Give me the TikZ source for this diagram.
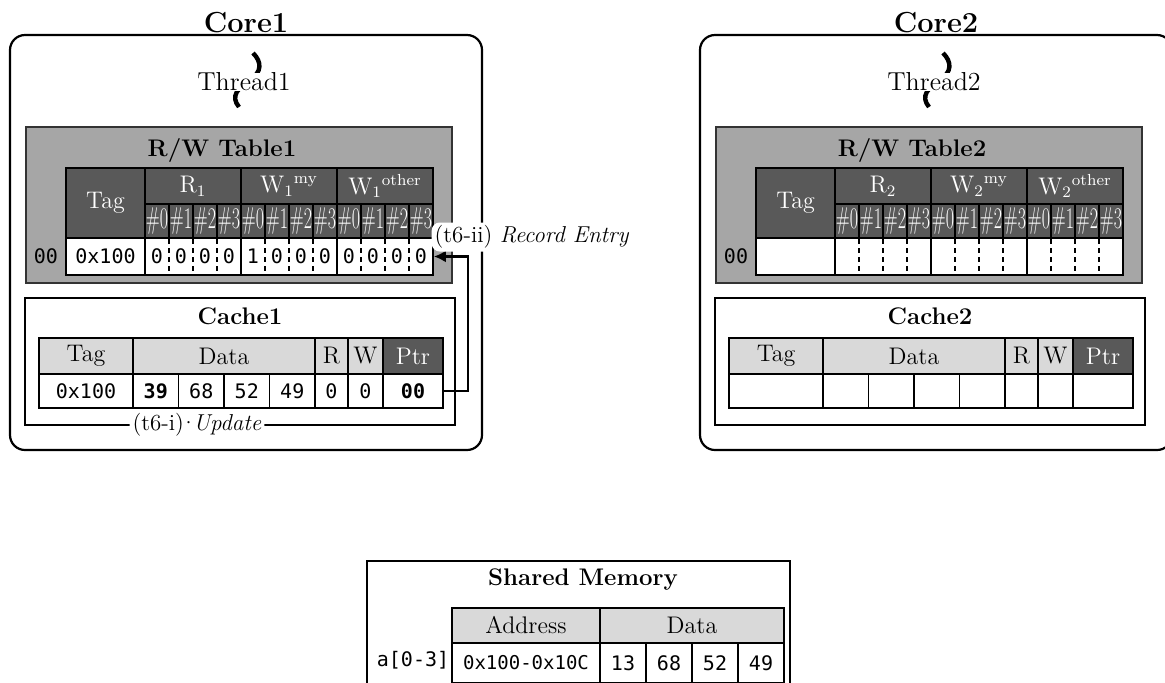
\documentclass[tikz,border=0pt]{standalone}
\usepackage{fontspec}
\setmonofont{DejaVu Sans Mono}
\usetikzlibrary{arrows.meta}
\definecolor{cdark}{HTML}{595959}
\definecolor{cgray}{HTML}{A6A6A6}
\definecolor{clight}{HTML}{D9D9D9}
\newcommand{\cellmono}{\fontsize{10}{11}\selectfont\ttfamily}
\newcommand{\cellrm}{\fontsize{12}{14}\selectfont}
\newcommand{\hashrm}{\fontsize{15}{17}\selectfont}
\tikzset{
  corebox/.style={draw, line width=1.1pt, rounded corners=7.5pt},
  thread/.style={line width=2.2pt},
  rwbox/.style={draw=black!80, fill=cgray, line width=0.8pt},
  cachebox/.style={draw, fill=white, line width=0.9pt},
  cell/.style={draw, fill=white, line width=0.9pt, inner sep=0pt, font=\cellmono},
  hdcell/.style={cell, fill=cdark, text=white, font=\cellrm},
  ltcell/.style={cell, fill=clight, font=\cellrm},
  wh/.style 2 args={minimum width=#1pt, minimum height=#2pt},
  divider/.style={line width=0.9pt, dash pattern=on 2.5pt off 2pt},
  coretitle/.style={font=\fontsize{14.5}{16}\selectfont\bfseries, inner sep=0.8pt},
  boxtitle/.style={font=\fontsize{12}{14}\selectfont\bfseries},
  steplabel/.style={fill=white, inner sep=1.5pt, rounded corners=4pt, font=\fontsize{11.5}{13}\selectfont},
  ptrarrow/.style={line width=1.3pt, -{Latex[length=6pt,width=6pt]}}
}

\begin{document}
\begin{tikzpicture}[x=1pt,y=-1pt]
\useasboundingbox (0,0) rectangle (582.5,341);

\foreach \c/\dx in {1/0,2/345}
{
  \begin{scope}[shift={(\dx,0)}]
  \draw[corebox] (5,17.5) rectangle (241,225);
  \node[coretitle, anchor=south] (core\c) at (123,17.5) {Core\c};
  \draw[thread] (126.5,26.5) .. controls (131,31) and (131,36) .. (125,40)
    .. controls (119,44) and (115,48) .. (119.5,53.5);
  \node[fill=white, inner sep=0pt, font=\fontsize{13}{15}\selectfont] (thr\c) at (122,41) {Thread\c};

  \draw[rwbox] (13,63.5) rectangle (226,141.5);
  \node[boxtitle] (rwt\c) at (111,75) {R/W Table\c};
  \node[hdcell, wh={39.5}{35}] (rw\c-tag) at (52.75,101.5) {Tag};
  \node[cell, wh={39.5}{18.5}] (rw\c-dtag) at (52.75,128.25) {};
  \node[font=\cellmono] (rw\c-idx) at (23,128.25) {00};
  \foreach \g/\lab in {0/$\mathrm{R}_{\c}$,1/$\mathrm{W}_{\c}{}^{\mathrm{my}}$,2/$\mathrm{W}_{\c}{}^{\mathrm{other}}$}
  {
    \node[hdcell, wh={48}{18}] (rw\c-h\g) at (96.5+48*\g,93) {\lab};
    \node[cell, wh={48}{18.5}] (rw\c-g\g) at (96.5+48*\g,128.25) {};
    \foreach \s in {0,...,3}
    {
      \node[hdcell, wh={12}{17}, font=\hashrm] (rw\c-h\g-\s) at (78.5+48*\g+12*\s,110.5) {\scalebox{0.6}[1]{\#\s}};
    }
    \foreach \s in {1,2,3}
    {
      \draw[divider] (72.5+48*\g+12*\s,119.5) -- (72.5+48*\g+12*\s,137);
    }
  }

  \draw[cachebox] (12.5,149) rectangle (227.5,212.5);
  \node[boxtitle] (ct\c) at (120,158) {Cache\c};
  \node[ltcell, wh={47}{18}] (c\c-htag) at (43,178) {Tag};
  \node[ltcell, wh={91}{18}] (c\c-hdata) at (112,178) {Data};
  \node[ltcell, wh={16.5}{18}] (c\c-hr) at (165.75,178) {R};
  \node[ltcell, wh={17.5}{18}] (c\c-hw) at (182.75,178) {W};
  \node[hdcell, wh={30}{18}] (c\c-hptr) at (206.5,178) {Ptr};
  \node[cell, wh={47}{17}] (c\c-dtag) at (43,195.5) {};
  \foreach \s in {0,...,3}
  {
    \node[cell, wh={22.75}{17}] (c\c-d\s) at (77.875+22.75*\s,195.5) {};
  }
  \node[cell, wh={16.5}{17}] (c\c-dr) at (165.75,195.5) {};
  \node[cell, wh={17.5}{17}] (c\c-dw) at (182.75,195.5) {};
  \node[cell, wh={30}{17}] (c\c-dptr) at (206.5,195.5) {};
  \end{scope}
}

\node[font=\cellmono] (rv-tag) at (rw1-dtag) {0x100};
\foreach \x in {0,...,11}
{
  \pgfmathtruncatemacro{\v}{\x==4}
  \node[font=\cellmono] (rv\x) at (78.5+12*\x,128.25) {\v};
}
\node[font=\cellmono] (cv-tag) at (c1-dtag) {0x100};
\foreach \s/\v in {0/\textbf{39},1/68,2/52,3/49}
{
  \node[font=\cellmono] (cv\s) at (c1-d\s) {\v};
}
\node[font=\cellmono] (cv-r) at (c1-dr) {0};
\node[font=\cellmono] (cv-w) at (c1-dw) {0};
\node[font=\cellmono] (cv-ptr) at (c1-dptr) {\textbf{00}};

\node[steplabel] (upd) at (98.5,212.5) {(t6-i)\kern-2pt\textperiodcentered\kern-2pt\textit{Update}};
\coordinate (bend) at (234,195.5);
\draw[ptrarrow] (c1-dptr.east) -- (bend) |- (rw1-g2.east);
\node[steplabel] (rec) at (266,118.5) {(t6-ii) \textit{Record Entry}};

\draw[cachebox] (183.5,280.5) rectangle (395,365);
\node[boxtitle] (shm) at (291.5,290) {Shared Memory};
\node[ltcell, wh={74}{17.5}] (m-addr) at (263,312.75) {Address};
\node[ltcell, wh={92}{17.5}] (m-data) at (346,312.75) {Data};
\node[cell, wh={74}{20}, font=\fontsize{9.5}{11}\selectfont\ttfamily] (m-range) at (263,331.5) {0x100-0x10C};
\foreach \i/\v in {0/13,1/68,2/52,3/49}
{
  \node[cell, wh={23}{20}] (m-d\i) at (311.5+23*\i,331.5) {\v};
}
\node[font=\cellmono] (m-arr) at (206.5,330) {a[0-3]};
\end{tikzpicture}
\end{document}
